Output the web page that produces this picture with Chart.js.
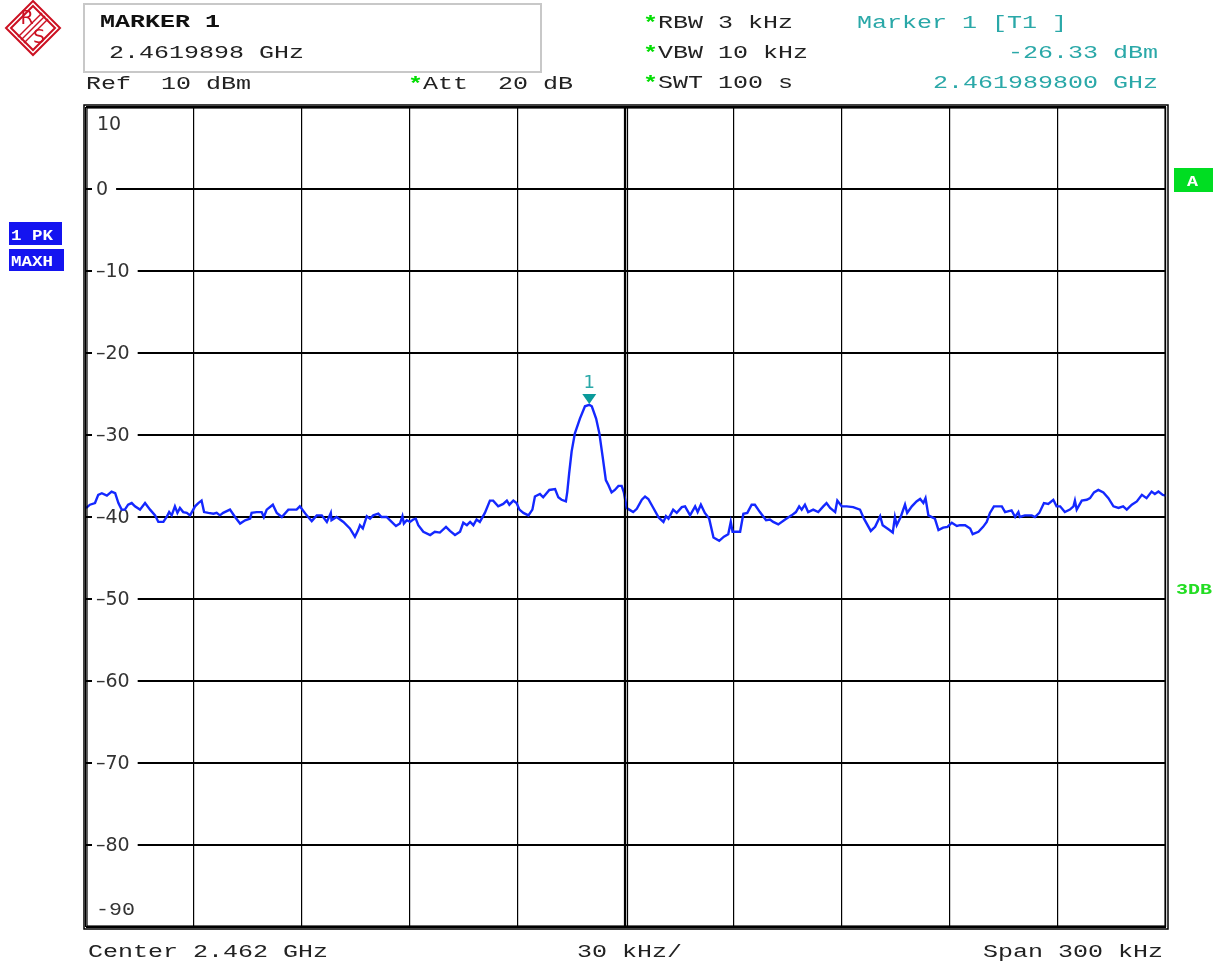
<!DOCTYPE html>
<html>
<head>
<meta charset="utf-8">
<script src="https://cdn.jsdelivr.net/npm/chart.js@4.4.1/dist/chart.umd.min.js"></script>
<style>
  html, body { margin: 0; padding: 0; background: #fff; }
  #wrap { width: 1219px; height: 964px; position: relative; }
</style>
</head>
<body>
<div id="wrap"><canvas id="spec"></canvas></div>
<script>
// frequency offset from center 2.462 GHz, in kHz
const freqKHz = [
  -150, -148.9, -147.5, -146.6, -145.6, -144.2, -142.9, -141.9, -141.0, -140.1,
  -139.2, -138.3, -137.3, -136.4, -135.0, -133.6, -132.2, -130.8, -129.9, -128.5,
  -127.6, -126.9, -126.2, -125.3, -124.6, -123.9, -123.0, -122.0, -121.1, -119.7,
  -118.8, -117.9, -117.2, -116.0, -114.6, -113.7, -112.8, -111.9, -110.0, -108.6,
  -107.2, -105.8, -104.4, -104.0, -102.6, -101.2, -100.6, -99.8, -98.1, -97.0,
  -95.6, -93.8, -91.5, -90.6, -88.7, -87.3, -85.9, -84.5, -83.1, -82.0,
  -81.8, -80.4, -78.5, -76.7, -75.3, -74.4, -73.9, -73.1, -72.0, -71.1,
  -70.2, -68.8, -67.9, -66.5, -65.1, -63.9, -62.8, -62.1, -61.7, -60.9,
  -60.0, -59.1, -58.4, -57.7, -56.3, -54.4, -53.1, -51.7, -50.0, -48.9,
  -47.5, -46.1, -45.2, -44.2, -43.3, -42.4, -41.5, -40.6, -39.2, -37.8,
  -36.9, -35.5, -34.1, -33.1, -32.4, -31.3, -30.4, -29.6, -28.5, -27.1,
  -26.0, -25.3, -23.9, -23.0, -21.3, -19.7, -18.8, -17.9, -16.7, -16.3,
  -15.8, -15.1, -14.2, -12.8, -11.4, -10.2, -9.5, -8.3, -7.4, -6.5,
  -5.6, -4.9, -4.0, -3.1, -2.1, -1.2, -0.6, 0.2, 0.9, 2.0,
  3.0, 4.4, 5.3, 6.2, 7.6, 9.0, 9.4, 10.4, 11.1, 11.8,
  13.1, 14.1, 15.5, 16.4, 17.8, 19.2, 19.9, 20.8, 21.9, 23.1,
  24.3, 25.9, 27.2, 28.4, 29.1, 29.6, 31.7, 32.6, 33.7, 34.9,
  35.8, 37.2, 38.9, 40.0, 40.9, 42.3, 44.2, 46.0, 47.2, 48.1,
  48.8, 49.7, 50.6, 52.0, 53.4, 54.8, 55.7, 56.7, 58.1, 58.7,
  59.9, 61.3, 63.1, 65.0, 66.1, 68.0, 69.2, 70.6, 71.3, 72.9,
  74.1, 74.7, 75.2, 76.3, 77.5, 78.1, 79.4, 80.7, 81.7, 82.6,
  83.2, 84.0, 85.8, 86.8, 88.1, 89.3, 90.5, 91.9, 92.8, 94.2,
  95.6, 96.3, 97.9, 99.2, 100.2, 101.1, 102.2, 104.4, 105.3, 107.1,
  108.1, 109.0, 109.4, 110.8, 112.7, 113.6, 114.8, 116.1, 117.3, 118.7,
  119.6, 120.6, 121.9, 123.3, 124.3, 124.7, 125.2, 126.6, 128.0, 128.9,
  130.0, 131.2, 132.6, 134.0, 135.4, 136.8, 138.1, 139.1, 140.5, 141.9,
  143.3, 144.6, 146.0, 146.9, 147.9, 149.1, 150
];

// trace 1, PK / MAXH, in dBm
const levelDbm = [
  -38.9, -38.5, -38.3, -37.3, -37.1, -37.4, -36.9, -37.1, -38.3, -39.1,
  -39.1, -38.5, -38.3, -38.7, -39.1, -38.3, -39.1, -39.8, -40.6, -40.6,
  -40.0, -39.4, -39.8, -38.7, -39.5, -38.9, -39.4, -39.5, -39.8, -38.7,
  -38.3, -38.0, -39.4, -39.5, -39.6, -39.5, -39.8, -39.5, -39.1, -40.0,
  -40.8, -40.4, -40.2, -39.5, -39.4, -39.4, -40.0, -39.1, -38.5, -39.5,
  -40.0, -39.1, -39.1, -38.7, -39.8, -40.5, -39.8, -39.8, -40.6, -39.5,
  -40.4, -40.0, -40.6, -41.4, -42.4, -41.6, -41.0, -41.4, -39.9, -40.2,
  -39.8, -39.6, -40.0, -40.0, -40.6, -41.1, -40.8, -39.9, -40.8, -40.4,
  -40.6, -40.3, -40.2, -41.0, -41.8, -42.2, -41.8, -41.9, -41.2, -41.7,
  -42.2, -41.8, -40.7, -41.0, -40.6, -41.0, -40.3, -40.6, -39.5, -38.0,
  -38.0, -38.7, -38.4, -38.0, -38.5, -38.0, -38.3, -39.1, -39.5, -39.8,
  -39.1, -37.5, -37.2, -37.6, -36.7, -36.6, -37.6, -37.9, -38.1, -36.9,
  -34.7, -32.0, -29.8, -28.0, -26.5, -26.33, -26.5, -28.0, -29.8, -32.6,
  -35.5, -36.1, -37.0, -36.7, -36.2, -36.2, -37.0, -38.9, -39.1, -39.4,
  -39.0, -37.9, -37.5, -37.8, -38.9, -40.0, -40.2, -40.6, -39.9, -40.2,
  -39.1, -39.5, -38.8, -38.7, -39.8, -38.7, -39.4, -38.5, -39.5, -40.2,
  -42.5, -42.9, -42.4, -42.1, -40.6, -41.8, -41.8, -39.6, -39.5, -38.5,
  -38.5, -39.4, -40.4, -40.3, -40.6, -40.9, -40.3, -39.8, -39.4, -38.7,
  -39.1, -38.5, -39.4, -39.1, -39.4, -38.7, -38.3, -38.9, -39.4, -38.0,
  -38.7, -38.7, -38.8, -39.1, -40.2, -41.7, -41.2, -39.9, -41.0, -41.5,
  -41.9, -40.0, -41.0, -40.0, -38.5, -39.5, -38.7, -38.1, -37.8, -38.3,
  -37.7, -39.8, -40.2, -41.6, -41.3, -41.2, -40.7, -41.1, -41.0, -41.0,
  -41.4, -42.1, -41.8, -41.2, -40.6, -39.5, -38.7, -38.7, -39.4, -39.2,
  -40.0, -39.4, -40.0, -39.8, -39.8, -40.0, -39.5, -38.3, -38.4, -37.9,
  -38.7, -38.7, -39.4, -39.1, -38.7, -38.0, -39.1, -38.0, -37.9, -37.7,
  -37.0, -36.7, -37.0, -37.7, -38.7, -38.9, -38.7, -39.1, -38.5, -38.1,
  -37.3, -37.7, -36.9, -37.2, -36.9, -37.3, -37.4
];

const markerFreq = [-10.2];
const markerLevel = [-26.33];
const yTicks = [10, 0, -10, -20, -30, -40, -50, -60, -70, -80, -90];

const MONO = '"Liberation Mono", "DejaVu Sans Mono", monospace';
const PITCH = 15;

// draws fixed-pitch text, wide like the analyzer font
function monoText(ctx, str, x, y, color, opts) {
  opts = opts || {};
  const size = opts.size || 19;
  const pitch = opts.pitch || PITCH;
  const sx = pitch / (size * 0.6);
  if (opts.right) x = x - str.length * pitch;
  ctx.save();
  ctx.textBaseline = 'alphabetic';
  ctx.textAlign = 'left';
  ctx.translate(x, y);
  ctx.scale(sx, 1);
  for (let i = 0; i < str.length; i++) {
    const ch = str[i];
    if (ch === '*') {
      ctx.fillStyle = '#00dd00';
      ctx.font = 'bold ' + size + 'px ' + MONO;
    } else {
      ctx.fillStyle = color;
      ctx.font = (opts.bold ? 'bold ' : '') + size + 'px ' + MONO;
    }
    ctx.fillText(ch, i * pitch / sx, 0);
  }
  ctx.restore();
}

function badge(ctx, x, y, w, h, bg, text, size) {
  ctx.save();
  ctx.fillStyle = bg;
  ctx.fillRect(x, y, w, h);
  ctx.restore();
  monoText(ctx, text, x + 2, y + h - 5, '#ffffff', {bold: true, size: size, pitch: size * 0.75});
}

function drawLogo(ctx) {
  const cx = 33, cy = 28, r = 27;
  ctx.save();
  ctx.strokeStyle = '#cc1122';
  ctx.lineWidth = 2;
  for (const rr of [r, r - 5]) {
    ctx.beginPath();
    ctx.moveTo(cx, cy - rr); ctx.lineTo(cx + rr, cy); ctx.lineTo(cx, cy + rr); ctx.lineTo(cx - rr, cy);
    ctx.closePath(); ctx.stroke();
  }
  ctx.lineWidth = 1.4;
  for (const d of [-3, 0, 3]) {
    ctx.beginPath();
    ctx.moveTo(cx + 12 + d, cy - 12 + d);
    ctx.lineTo(cx - 12 + d, cy + 12 + d);
    ctx.stroke();
  }
  ctx.fillStyle = '#cc1122';
  ctx.font = '19px "DejaVu Sans", sans-serif';
  ctx.textAlign = 'center';
  ctx.textBaseline = 'middle';
  ctx.fillText('R', cx - 6, cy - 9);
  ctx.fillText('S', cx + 6, cy + 10);
  ctx.restore();
}

const LABEL_FONT = '19px "DejaVu Sans", sans-serif';

const overlay = {
  id: 'overlay',
  beforeDatasetsDraw(chart) {
    const ctx = chart.ctx;
    const ys = chart.scales.y;
    const a = chart.chartArea;
    // level labels on the grid
    yTicks.forEach(v => {
      const py = ys.getPixelForValue(v);
      const label = v < 0 ? '\u2013' + Math.abs(v) : String(v);
      ctx.save();
      ctx.font = LABEL_FONT;
      ctx.textBaseline = 'middle';
      if (v === 10) {
        ctx.fillStyle = '#333';
        ctx.fillText(label, a.left + 11, py + 18);
      } else if (v === -90) {
        monoText(ctx, '-90', a.left + 10, py - 12, '#333', {size: 18, pitch: 13});
      } else {
        const w = ctx.measureText(label).width;
        ctx.fillStyle = '#fff';
        ctx.fillRect(a.left + 6, py - 3, w + 12, 6);
        ctx.fillStyle = '#333';
        ctx.fillText(label, a.left + 10, py + 1);
      }
      ctx.restore();
    });
  },
  afterDraw(chart) {
    const ctx = chart.ctx;
    const a = chart.chartArea;
    const xs = chart.scales.x, ys = chart.scales.y;

    // double frame and center line
    ctx.save();
    ctx.strokeStyle = '#000';
    ctx.lineWidth = 1.5;
    ctx.strokeRect(a.left - 2, a.top - 2, a.right - a.left + 4, a.bottom - a.top + 4);
    ctx.lineWidth = 1.2;
    ctx.strokeRect(a.left + 1, a.top + 1, a.right - a.left - 2, a.bottom - a.top - 2);
    const cxp = xs.getPixelForValue(0);
    ctx.beginPath();
    ctx.moveTo(cxp - 1.5, a.top); ctx.lineTo(cxp - 1.5, a.bottom);
    ctx.moveTo(cxp + 1.5, a.top); ctx.lineTo(cxp + 1.5, a.bottom);
    ctx.stroke();
    ctx.restore();

    // marker 1
    const mx = xs.getPixelForValue(markerFreq[0]);
    const my = ys.getPixelForValue(markerLevel[0]);
    ctx.save();
    ctx.fillStyle = '#0a9a9a';
    ctx.beginPath();
    ctx.moveTo(mx - 7, my - 11); ctx.lineTo(mx + 7, my - 11); ctx.lineTo(mx, my - 1);
    ctx.closePath(); ctx.fill();
    ctx.fillStyle = '#2aa8a8';
    ctx.font = '18px "DejaVu Sans", sans-serif';
    ctx.textAlign = 'center';
    ctx.textBaseline = 'alphabetic';
    ctx.fillText('1', mx, my - 17);
    ctx.restore();

    // header
    drawLogo(ctx);
    ctx.save();
    ctx.fillStyle = '#fff';
    ctx.fillRect(84, 4, 457, 68);
    ctx.strokeStyle = '#c8c8c8';
    ctx.lineWidth = 2;
    ctx.strokeRect(84, 4, 457, 68);
    ctx.restore();
    monoText(ctx, 'MARKER 1', 100, 27, '#111', {bold: true});
    monoText(ctx, '2.4619898 GHz', 109, 58, '#222');
    monoText(ctx, 'Ref  10 dBm', 86, 89, '#222');
    monoText(ctx, '*Att  20 dB', 408, 89, '#222');
    monoText(ctx, '*RBW 3 kHz', 643, 28, '#222');
    monoText(ctx, '*VBW 10 kHz', 643, 58, '#222');
    monoText(ctx, '*SWT 100 s', 643, 88, '#222');
    monoText(ctx, 'Marker 1 [T1 ]', 857, 28, '#2aa8a8');
    monoText(ctx, '-26.33 dBm', 1158, 58, '#2aa8a8', {right: true});
    monoText(ctx, '2.461989800 GHz', 1158, 88, '#2aa8a8', {right: true});

    // footer
    monoText(ctx, 'Center 2.462 GHz', 88, 957, '#222');
    monoText(ctx, '30 kHz/', 577, 957, '#222');
    monoText(ctx, 'Span 300 kHz', 1163, 957, '#222', {right: true});

    // side badges
    badge(ctx, 9, 222, 53, 23, '#1414f0', '1 PK', 14);
    badge(ctx, 9, 249, 55, 22, '#1414f0', 'MAXH', 14);
    ctx.save();
    ctx.fillStyle = '#00dd22';
    ctx.fillRect(1174, 168, 39, 24);
    ctx.restore();
    monoText(ctx, 'A', 1187, 186, '#ffffff', {bold: true, size: 15, pitch: 11});
    monoText(ctx, '3DB', 1176, 594, '#22dd22', {bold: true, size: 15, pitch: 12});
  }
};

const canvas = document.getElementById('spec');
new Chart(canvas, {
  type: 'line',
  data: {
    datasets: [{
      label: 'Trace 1',
      data: freqKHz.map((f, i) => ({x: f, y: levelDbm[i]})),
      borderColor: '#1428ff',
      borderWidth: 2.4,
      pointRadius: 0,
      tension: 0,
      fill: false
    }]
  },
  options: {
    responsive: true,
    maintainAspectRatio: false,
    animation: false,
    events: [],
    layout: {padding: {left: 86, top: 107, right: 53, bottom: 37}},
    plugins: {legend: {display: false}, tooltip: {enabled: false}},
    scales: {
      x: {
        type: 'linear', min: -150, max: 150,
        ticks: {display: false, stepSize: 30},
        border: {display: false},
        grid: {color: '#000', lineWidth: 1.2, drawTicks: false, tickLength: 0}
      },
      y: {
        min: -90, max: 10,
        ticks: {display: false, stepSize: 10},
        border: {display: false},
        grid: {color: '#000', lineWidth: 2, drawTicks: false, tickLength: 0}
      }
    }
  },
  plugins: [overlay]
});
</script>
</body>
</html>
